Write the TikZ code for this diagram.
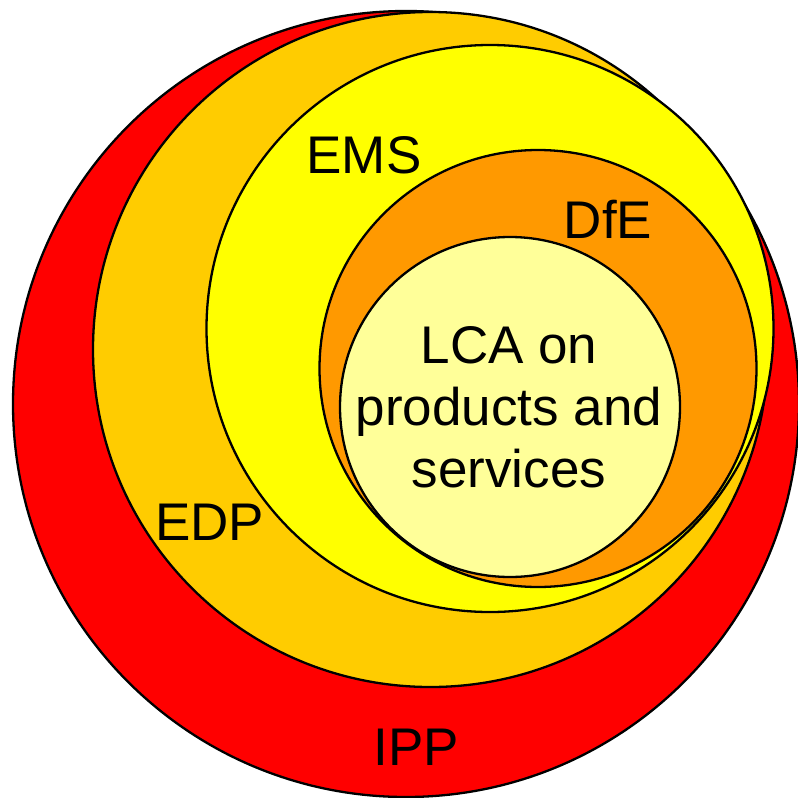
\documentclass[tikz,border=0pt]{standalone}
\usepackage{fontspec}
\setmainfont{Liberation Sans}
\begin{document}
\begin{tikzpicture}[x=1pt,y=-1pt,
  ring/.style={circle,draw=black,line width=2.3pt,inner sep=0pt,outer sep=0pt},
  lbl/.style={anchor=base,font=\fontsize{53}{63}\selectfont,inner sep=0pt}]
\useasboundingbox (0,0) rectangle (798,798);
\definecolor{ippred}{HTML}{FF0000}
\definecolor{edpor}{HTML}{FFCC00}
\definecolor{emsyel}{HTML}{FFFF00}
\definecolor{dfeor}{HTML}{FF9900}
\definecolor{lcayel}{HTML}{FFFF99}
\node[ring,fill=ippred,minimum size=786pt] (ipp) at (406,404) {};
\node[ring,fill=edpor,minimum size=675pt] (edp) at (430.5,349.5) {};
\node[ring,fill=emsyel,minimum size=567pt] (ems) at (490,328.5) {};
\node[ring,fill=dfeor,minimum size=437pt] (dfe) at (538,368.5) {};
\node[ring,fill=lcayel,minimum size=340pt] (lca) at (510,407) {};
\node[lbl] (tems) at (364,173) {EMS};
\node[lbl] (tdfe) at (608,238) {DfE};
\node[lbl] (tedp) at (209.5,540) {EDP};
\node[lbl] (tipp) at (416.5,765) {IPP};
\node[lbl] (tlca1) at (509,363) {LCA on};
\node[lbl] (tlca2) at (509,425) {products and};
\node[lbl] (tlca3) at (509,487) {services};
\end{tikzpicture}
\end{document}
